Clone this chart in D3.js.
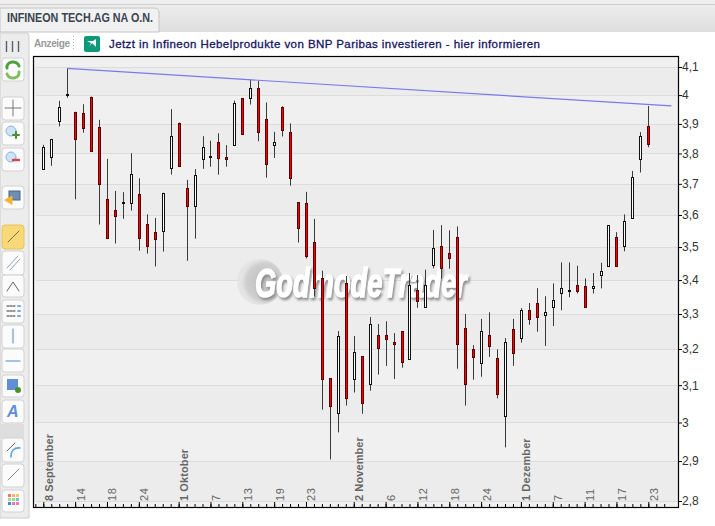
<!DOCTYPE html>
<html>
<head>
<meta charset="utf-8">
<script src="https://cdn.jsdelivr.net/npm/d3@7/dist/d3.min.js"></script>
<style>
  html, body { margin: 0; padding: 0; background: #fff; overflow: hidden; }
  svg { display: block; font-family: "Liberation Sans", Arial, sans-serif; }
</style>
</head>
<body>
<div id="chart"></div>
<script>
// daily candles
const opens = [3.750,3.787,3.911,4.000,3.942,3.937,3.992,3.889,3.650,3.615,
  3.638,3.638,3.666,3.571,3.546,3.551,3.751,3.903,3.686,3.630,
  3.781,3.788,3.838,3.787,3.830,3.989,3.989,4.024,3.916,3.830,
  3.959,3.873,3.641,3.638,3.515,3.405,3.119,3.024,3.391,3.118,
  3.180,3.104,3.239,3.239,3.220,3.251,3.173,3.370,3.320,3.445,
  3.502,3.481,3.531,3.259,3.199,3.160,3.239,3.174,3.018,3.256,
  3.231,3.311,3.332,3.296,3.320,3.361,3.368,3.385,3.382,3.375,
  3.415,3.442,3.531,3.502,3.590,3.781,3.892];
const closes = [3.821,3.848,3.960,4.003,3.850,3.887,3.809,3.700,3.529,3.596,
  3.641,3.731,3.529,3.504,3.526,3.671,3.858,3.760,3.630,3.728,
  3.821,3.791,3.786,3.780,3.972,3.867,4.024,3.871,3.766,3.839,
  3.880,3.720,3.560,3.474,3.375,3.118,3.045,3.236,3.064,3.191,
  3.053,3.271,3.204,3.229,3.215,3.165,3.385,3.339,3.385,3.496,
  3.435,3.465,3.215,3.104,3.179,3.251,3.209,3.075,3.219,3.190,
  3.311,3.285,3.291,3.305,3.340,3.376,3.370,3.366,3.320,3.382,
  3.427,3.568,3.442,3.580,3.721,3.858,3.831];
const highs = [3.829,3.849,3.980,4.095,3.942,3.968,3.995,3.914,3.782,3.677,
  3.673,3.801,3.718,3.602,3.591,3.671,3.951,3.905,3.713,3.748,
  3.858,3.843,3.868,3.828,3.981,3.989,4.054,4.050,3.974,3.873,
  3.961,3.902,3.641,3.674,3.588,3.428,3.119,3.251,3.412,3.237,
  3.180,3.291,3.271,3.279,3.245,3.251,3.421,3.415,3.431,3.553,
  3.568,3.552,3.564,3.300,3.211,3.286,3.305,3.199,3.231,3.286,
  3.317,3.332,3.376,3.352,3.390,3.453,3.453,3.443,3.405,3.421,
  3.452,3.568,3.546,3.602,3.742,3.872,3.962];
const lows = [3.749,3.759,3.891,3.991,3.650,3.870,3.809,3.570,3.529,3.511,
  3.588,3.614,3.489,3.480,3.441,3.486,3.730,3.760,3.458,3.526,
  3.749,3.756,3.730,3.756,3.830,3.867,3.967,3.841,3.720,3.785,
  3.857,3.694,3.514,3.465,3.351,3.034,2.904,2.974,3.045,3.080,
  3.023,3.085,3.129,3.153,3.117,3.148,3.173,3.318,3.320,3.435,
  3.404,3.434,3.145,3.045,3.115,3.123,3.178,3.064,2.935,3.153,
  3.218,3.269,3.249,3.209,3.265,3.311,3.349,3.360,3.320,3.360,
  3.375,3.442,3.442,3.487,3.590,3.737,3.821];

const priceTicks = [2.8,2.9,3,3.1,3.2,3.3,3.4,3.5,3.6,3.7,3.8,3.9,4,4.1];
const dayIndex = [0,4,8,12,17,21,25,29,33,39,43,47,51,55,60,64,68,72,76];
const dayLabels = ["8 September","14","18","24","1 Oktober","7","13","19","23",
  "2 November","6","12","18","24","1 Dezember","7","11","17","23"];

// drawn trend line
const trendIndex = [3,78.9];
const trendPrice = [4.095,3.962];

const tabTitle = "INFINEON TECH.AG NA O.N.";
const adText = "Jetzt in Infineon Hebelprodukte von BNP Paribas investieren - hier informieren";

const W = 715, H = 526;
const frame = { left: 33, right: 678, top: 56, bottom: 507 };

const svg = d3.select("#chart").append("svg").attr("width", W).attr("height", H);
const defs = svg.append("defs");

const x = d3.scaleLinear().domain([0, 76]).range([43.3, 648.3]);
const y = d3.scaleLog().domain([2.8, 4.1]).range([501, 67]);

// =========================
// HEADER + AD BAR
// =========================
const headGrad = defs.append("linearGradient").attr("id", "head").attr("x2", 0).attr("y2", 1);
headGrad.append("stop").attr("offset", 0).attr("stop-color", "#f0f0f0");
headGrad.append("stop").attr("offset", 1).attr("stop-color", "#dedede");

svg.append("rect").attr("width", W).attr("height", 32).attr("fill", "url(#head)");
svg.append("line").attr("x1", 0).attr("x2", W).attr("y1", 4.5).attr("y2", 4.5).attr("stroke", "#cfcfcf");
svg.append("path").attr("d", "M0,8H154Q159,8 159,13V32H0Z")
  .attr("fill", "#f1f1f1").attr("stroke", "#c4c4c4");
svg.append("text").attr("x", 7).attr("y", 22)
  .attr("font-size", 12).attr("font-weight", "bold").attr("fill", "#3a4450")
  .attr("textLength", 146).attr("lengthAdjust", "spacingAndGlyphs").text(tabTitle);

svg.append("text").attr("x", 34).attr("y", 47).attr("font-size", 10).attr("font-weight", "bold")
  .attr("fill", "#9a9a9a").attr("textLength", 36).text("Anzeige");
svg.append("line").attr("x1", 73.5).attr("x2", 73.5).attr("y1", 36).attr("y2", 50)
  .attr("stroke", "#bbb").attr("stroke-dasharray", "1,2");
svg.append("rect").attr("x", 84).attr("y", 36).attr("width", 16).attr("height", 16).attr("rx", 2).attr("fill", "#0a9a78");
svg.append("path").attr("d", "M87,41H93L96,39V47L92,43L89,47L91,43Z").attr("fill", "#fff");
svg.append("text").attr("x", 109).attr("y", 47.5).attr("font-size", 11.5).attr("fill", "#14145f")
  .attr("stroke", "#14145f").attr("stroke-width", 0.3)
  .attr("textLength", 431).text(adText);

// =========================
// TOOLBAR
// =========================
svg.append("path").attr("d", "M0,33H26Q29,33 29,36V518H0Z").attr("fill", "#ececec").attr("stroke", "#cdcdcd");
svg.append("rect").attr("x", 0).attr("y", 424).attr("width", 24).attr("height", 14).attr("fill", "#dedede");
[6, 12, 18].forEach(px => {
  svg.append("line").attr("x1", px + .5).attr("x2", px + .5).attr("y1", 41).attr("y2", 52)
    .attr("stroke", "#56606a").attr("stroke-width", 1.4);
});
const buttonTops = [58, 97, 122, 148, 186, 225, 251, 275, 300, 325, 349, 375, 400, 438, 464, 490];
const buttonH = [23, 23, 23, 23, 23, 24, 24, 22, 23, 23, 23, 22, 23, 24, 23, 22];
buttonTops.forEach((t, i) => {
  svg.append("rect").attr("x", 2).attr("y", t).attr("width", 22).attr("height", buttonH[i]).attr("rx", 3)
    .attr("fill", i === 5 ? "#f8d97a" : "#fbfbfb").attr("stroke", i === 5 ? "#e6c25c" : "#d2d2d2");
});
const icon = svg.append("g").attr("fill", "none").attr("stroke-linecap", "round");
// reload
icon.append("path").attr("d", "M7,68A6,5 0 0 1 19,66").attr("stroke", "#4da13a").attr("stroke-width", 3);
icon.append("path").attr("d", "M19,72A6,5 0 0 1 7,74").attr("stroke", "#7fbf5a").attr("stroke-width", 3);
// crosshair
icon.append("path").attr("d", "M13,100V116M5,108H21").attr("stroke", "#777");
// zoom in / out
icon.append("circle").attr("cx", 11).attr("cy", 131).attr("r", 5).attr("fill", "#cfe3f7").attr("stroke", "#8fb4d9");
icon.append("path").attr("d", "M13,135H19M16,132V138").attr("stroke", "#4b8f2f").attr("stroke-width", 2);
icon.append("circle").attr("cx", 11).attr("cy", 157).attr("r", 5).attr("fill", "#cfe3f7").attr("stroke", "#8fb4d9");
icon.append("path").attr("d", "M13,160H19").attr("stroke", "#d8434a").attr("stroke-width", 2.4);
// screen
icon.append("rect").attr("x", 9).attr("y", 191).attr("width", 11).attr("height", 9).attr("fill", "#6d8fb5").attr("stroke", "#4f6580");
icon.append("path").attr("d", "M5,200L12,196V204Z").attr("fill", "#f0b432").attr("stroke", "#f0b432");
// line tools
icon.append("path").attr("d", "M8,242L19,231").attr("stroke", "#8a6b2a");
icon.append("path").attr("d", "M7,268L18,256M10,270L20,259").attr("stroke", "#9aa2aa");
icon.append("path").attr("d", "M7,291L13,282L19,291").attr("stroke", "#666");
icon.append("path").attr("d", "M7,306H15M7,311H15M7,316H15").attr("stroke", "#333").attr("stroke-dasharray", "2,1");
icon.append("path").attr("d", "M18,306H20M18,311H20M18,316H20").attr("stroke", "#79a8ea").attr("stroke-width", 2);
icon.append("path").attr("d", "M13,329V343").attr("stroke", "#4f86cf");
icon.append("path").attr("d", "M6,361H20").attr("stroke", "#4f86cf");
icon.append("rect").attr("x", 7).attr("y", 379).attr("width", 11).attr("height", 11).attr("fill", "#5f8fd6");
icon.append("circle").attr("cx", 18).attr("cy", 390).attr("r", 3).attr("fill", "#4b8f2f");
svg.append("text").attr("x", 7).attr("y", 417).attr("font-size", 16).attr("font-weight", "bold")
  .attr("font-style", "italic").attr("fill", "#5f8fd6").text("A");
icon.append("path").attr("d", "M7,451L15,443").attr("stroke", "#666");
icon.append("path").attr("d", "M11,457Q11,447 20,448").attr("stroke", "#5fa8e0").attr("stroke-width", 1.6);
icon.append("path").attr("d", "M8,480L19,469").attr("stroke", "#888");
["#f07a6a","#f7b36b","#f7c66b","#a8d88a","#8fdc8f","#6cc4dc","#4f86cf","#e47ab8","#f07ab0"].forEach((c, i) => {
  svg.append("rect").attr("x", 8 + (i % 3) * 4).attr("y", 494 + Math.floor(i / 3) * 4)
    .attr("width", 3).attr("height", 3).attr("fill", c);
});

// =========================
// PLOT BACKGROUND
// =========================
svg.append("rect").attr("x", frame.left).attr("y", frame.top)
  .attr("width", frame.right - frame.left).attr("height", frame.bottom - frame.top).attr("fill", "#f0f0f0");
// alternating price bands, darker from 2.8, 3.0, 3.2 ...
priceTicks.slice(0, -1).forEach((p, i) => {
  if (i % 2 === 0) {
    svg.append("rect").attr("x", frame.left).attr("width", frame.right - frame.left)
      .attr("y", y(priceTicks[i + 1])).attr("height", y(p) - y(priceTicks[i + 1])).attr("fill", "#ececec");
  }
});
svg.append("rect").attr("x", frame.left).attr("width", frame.right - frame.left)
  .attr("y", y(2.8)).attr("height", frame.bottom - y(2.8)).attr("fill", "#f0f0f0");
svg.append("g").selectAll("line").data(priceTicks).enter().append("line")
  .attr("x1", frame.left + 3).attr("x2", frame.right)
  .attr("y1", d => Math.round(y(d)) + .5).attr("y2", d => Math.round(y(d)) + .5)
  .attr("stroke", "#dcdcdc").attr("stroke-width", 1.2);

// =========================
// WATERMARK
// =========================
const ballGrad = defs.append("radialGradient").attr("id", "ball").attr("cx", .6).attr("cy", .5);
ballGrad.append("stop").attr("offset", 0).attr("stop-color", "#bdbdbd");
ballGrad.append("stop").attr("offset", .8).attr("stop-color", "#cfcfcf");
ballGrad.append("stop").attr("offset", 1).attr("stop-color", "#e4e4e4");
const shadow = defs.append("filter").attr("id", "wmShadow")
  .attr("x", "-5%").attr("y", "-20%").attr("width", "110%").attr("height", "150%");
shadow.append("feDropShadow").attr("dx", 1.5).attr("dy", 2.5).attr("stdDeviation", 1.2)
  .attr("flood-color", "#8f8f8f");
svg.append("circle").attr("cx", 260).attr("cy", 282).attr("r", 23).attr("fill", "url(#ball)");
svg.append("text").attr("x", 255).attr("y", 297)
  .attr("font-size", 41).attr("font-weight", "bold").attr("font-style", "italic")
  .attr("fill", "#ffffff").attr("stroke", "#ffffff").attr("stroke-width", 1.4)
  .attr("filter", "url(#wmShadow)")
  .attr("textLength", 212).attr("lengthAdjust", "spacingAndGlyphs").text("GodmodeTrader");

// =========================
// CANDLES
// =========================
const candles = svg.append("g");
opens.forEach((open, i) => {
  const close = closes[i];
  const up = close >= open;
  const cx = Math.round(x(i)) + .5;
  const top = Math.round(y(Math.max(open, close)));
  const bottom = Math.round(y(Math.min(open, close)));
  candles.append("line").attr("x1", cx).attr("x2", cx)
    .attr("y1", y(highs[i])).attr("y2", y(lows[i]))
    .attr("stroke", "#3a3a3a").attr("stroke-width", 1);
  if (bottom - top < 1) {
    // open and close almost equal, just a small dash
    candles.append("line").attr("x1", cx - 2).attr("x2", cx + 2)
      .attr("y1", top + .5).attr("y2", top + .5).attr("stroke", "#111");
  } else {
    // outline stays on whole pixels, the jpeg source bleeds the red over it
    candles.append("rect").attr("x", cx - 1).attr("y", top + .5)
      .attr("width", 2).attr("height", bottom - top)
      .attr("fill", up ? "#ffffff" : "#ff0000")
      .attr("stroke", up ? "#111" : "#5a0000").attr("stroke-width", 1);
  }
});

// trend line
svg.append("line")
  .attr("x1", x(trendIndex[0])).attr("y1", y(trendPrice[0]))
  .attr("x2", x(trendIndex[1])).attr("y2", y(trendPrice[1]))
  .attr("stroke", "#7a7af0").attr("stroke-width", 1.2);

// =========================
// AXES + FRAME
// =========================
const yAxis = svg.append("g").attr("transform", `translate(${frame.right},0)`)
  .call(d3.axisRight(y).tickValues(priceTicks).tickSize(4).tickPadding(0)
    .tickFormat(d => String(d).replace(".", ",")));
yAxis.select(".domain").remove();
yAxis.selectAll("line").attr("stroke", "#000");
yAxis.selectAll("text").attr("font-size", 12).attr("fill", "#333")
  .attr("font-family", "'Liberation Sans', Arial, sans-serif");

// one small tick per trading day, bigger ones on labelled days
const everyDay = d3.range(-1, 79);
const xMinor = svg.append("g").attr("transform", `translate(0,${frame.bottom})`)
  .call(d3.axisTop(x).tickValues(everyDay).tickSize(3).tickFormat(""));
xMinor.select(".domain").remove();
xMinor.selectAll("line").attr("stroke", "#000");
const xMajor = svg.append("g").attr("transform", `translate(0,${frame.bottom})`)
  .call(d3.axisTop(x).tickValues(dayIndex).tickSize(5).tickFormat(""));
xMajor.select(".domain").remove();
xMajor.selectAll("line").attr("stroke", "#000");

svg.append("g").selectAll("text").data(dayLabels).enter().append("text")
  .attr("transform", (d, i) => `translate(${x(dayIndex[i]) + 9.5},501) rotate(-90)`)
  .attr("font-size", 11)
  .attr("letter-spacing", d => d.length > 2 ? .1 : .6)
  .attr("font-weight", d => d.length > 2 ? "bold" : "normal")
  .attr("fill", "#666")
  .text(d => d);

svg.append("rect").attr("x", frame.left + .5).attr("y", frame.top + .5)
  .attr("width", frame.right - frame.left).attr("height", frame.bottom - frame.top)
  .attr("fill", "none").attr("stroke", "#000").attr("stroke-width", 1.2);
</script>
</body>
</html>
